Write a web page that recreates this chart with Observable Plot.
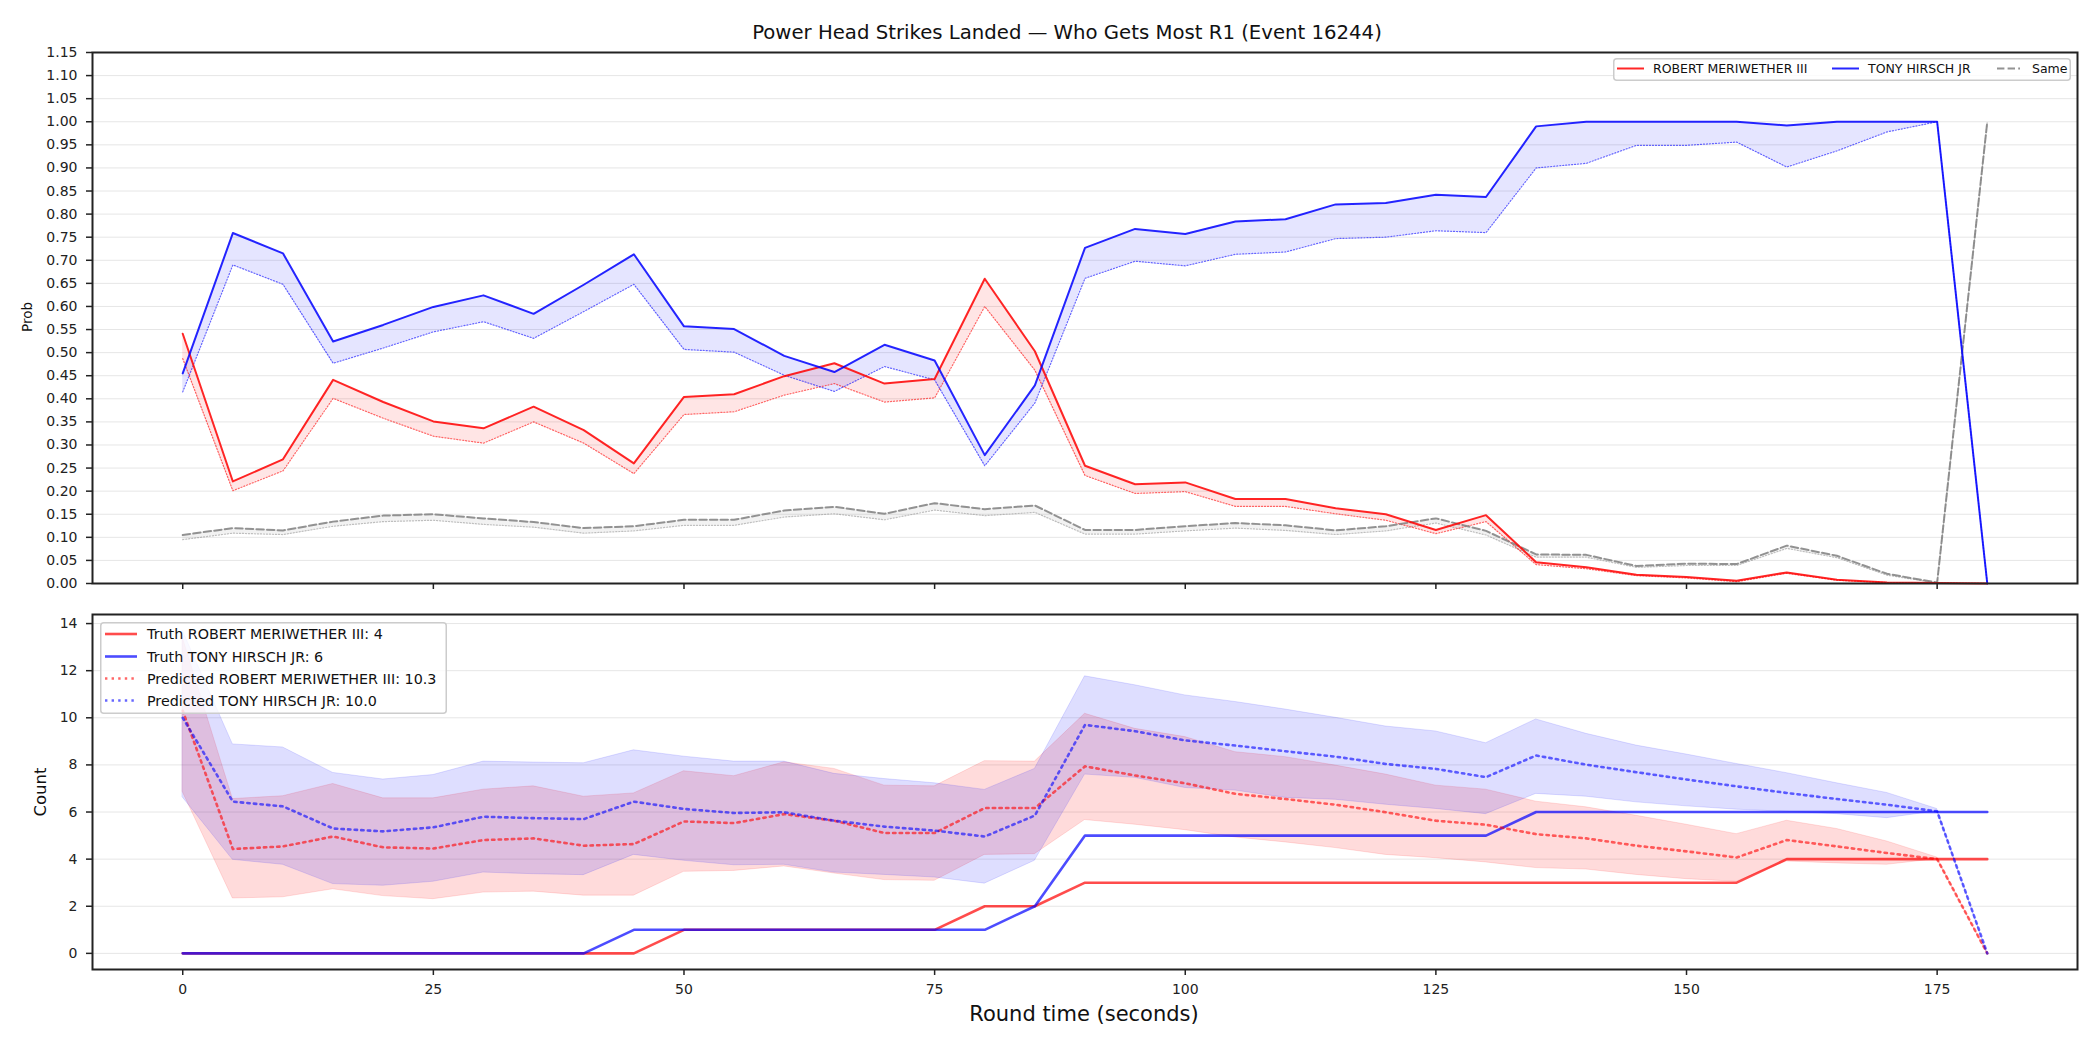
<!DOCTYPE html>
<html>
<head>
<meta charset="utf-8">
<script src="https://cdn.jsdelivr.net/npm/d3@7"></script>
<script src="https://cdn.jsdelivr.net/npm/@observablehq/plot@0.6"></script>
<style>
  html, body { margin: 0; padding: 0; background: #fff; }
  #fig { position: relative; width: 2100px; height: 1050px; overflow: hidden; font-family: "DejaVu Sans", sans-serif; color: #111; }
  #fig > svg, #fig > div { position: absolute; }
  .txt { line-height: 1; white-space: nowrap; }
</style>
</head>
<body>
<div id="fig"></div>
<script>
// Round time in seconds (one sample every 5 s)
const times = [0,5,10,15,20,25,30,35,40,45,50,55,60,65,70,75,80,85,90,95,100,105,110,115,120,125,130,135,140,145,150,155,160,165,170,175,180];

// Probability that each side lands the most power head strikes (solid) and its lower bound (dotted)
const probRobert    = [0.541,0.221,0.269,0.441,0.393,0.351,0.336,0.383,0.332,0.260,0.404,0.410,0.449,0.477,0.433,0.443,0.660,0.503,0.255,0.215,0.219,0.183,0.183,0.163,0.150,0.116,0.148,0.046,0.035,0.019,0.014,0.006,0.024,0.008,0.002,0.001,0.000];
const probRobertLow = [0.487,0.201,0.244,0.401,0.358,0.319,0.304,0.350,0.304,0.238,0.366,0.372,0.408,0.433,0.393,0.402,0.600,0.462,0.234,0.195,0.199,0.167,0.167,0.151,0.137,0.108,0.134,0.041,0.032,0.017,0.012,0.004,0.022,0.007,0.002,0.001,0.000];
const probTony      = [0.455,0.759,0.715,0.524,0.560,0.599,0.624,0.584,0.647,0.713,0.557,0.551,0.493,0.458,0.517,0.483,0.278,0.429,0.727,0.768,0.757,0.784,0.789,0.821,0.824,0.842,0.837,0.990,1.000,1.000,1.000,1.000,0.992,1.000,1.000,1.000,0.000];
const probTonyLow   = [0.415,0.690,0.648,0.477,0.510,0.545,0.567,0.531,0.589,0.648,0.507,0.501,0.451,0.416,0.470,0.441,0.255,0.391,0.661,0.698,0.688,0.713,0.718,0.747,0.750,0.764,0.760,0.900,0.910,0.949,0.949,0.956,0.902,0.937,0.978,1.000,0.000];
const probSame      = [0.105,0.120,0.115,0.134,0.147,0.150,0.141,0.133,0.120,0.124,0.138,0.138,0.158,0.166,0.151,0.174,0.161,0.169,0.116,0.116,0.124,0.131,0.126,0.115,0.124,0.141,0.114,0.063,0.062,0.038,0.043,0.042,0.082,0.060,0.021,0.002,1.000];
const probSameLow   = [0.095,0.109,0.106,0.124,0.134,0.137,0.128,0.122,0.109,0.114,0.126,0.126,0.144,0.151,0.138,0.159,0.147,0.154,0.107,0.107,0.114,0.120,0.115,0.106,0.114,0.131,0.105,0.057,0.057,0.035,0.039,0.039,0.076,0.056,0.018,0.001,1.000];

// Cumulative counts: truth (solid) and predicted final count with its band
const truthRobert  = [0,0,0,0,0,0,0,0,0,0,1,1,1,1,1,1,2,2,3,3,3,3,3,3,3,3,3,3,3,3,3,3,4,4,4,4,4];
const truthTony    = [0,0,0,0,0,0,0,0,0,1,1,1,1,1,1,1,1,2,5,5,5,5,5,5,5,5,5,6,6,6,6,6,6,6,6,6,6];
const predRobert   = [10.3,4.43,4.54,4.96,4.50,4.45,4.81,4.88,4.57,4.64,5.60,5.53,5.91,5.63,5.11,5.11,6.17,6.17,7.94,7.55,7.22,6.77,6.55,6.31,5.99,5.63,5.46,5.06,4.88,4.57,4.33,4.07,4.81,4.54,4.26,4.00,0];
const predRobertHi = [13.4,6.55,6.67,7.19,6.58,6.58,6.95,7.09,6.65,6.79,7.73,7.52,8.11,7.83,7.12,7.09,8.16,8.14,10.17,9.53,9.18,8.54,8.33,7.97,7.59,7.12,6.95,6.44,6.20,5.84,5.46,5.06,5.63,5.28,4.75,4.07,0];
const predRobertLo = [6.85,2.33,2.38,2.72,2.43,2.30,2.58,2.62,2.45,2.45,3.46,3.50,3.69,3.39,3.11,3.08,4.18,4.21,5.66,5.46,5.23,4.92,4.71,4.47,4.18,4.04,3.86,3.62,3.56,3.33,3.15,3.04,3.90,3.82,3.76,4.00,0];
const predTony     = [10.0,6.44,6.24,5.30,5.18,5.35,5.80,5.74,5.70,6.44,6.13,5.96,5.99,5.63,5.38,5.21,4.96,5.85,9.70,9.43,9.04,8.82,8.58,8.35,8.04,7.83,7.48,8.40,8.01,7.69,7.38,7.09,6.81,6.55,6.31,6.03,0];
const predTonyHi   = [13.7,8.87,8.74,7.66,7.38,7.57,8.14,8.10,8.07,8.62,8.35,8.14,8.14,7.62,7.40,7.22,6.94,7.83,11.76,11.38,10.95,10.67,10.35,10.00,9.63,9.42,8.92,9.93,9.32,8.82,8.44,8.04,7.65,7.22,6.81,6.13,0];
const predTonyLo   = [6.62,3.97,3.76,2.94,2.87,3.04,3.43,3.36,3.32,4.18,3.93,3.74,3.76,3.43,3.33,3.22,2.96,3.93,7.59,7.45,7.02,6.91,6.60,6.52,6.31,6.13,5.91,6.77,6.65,6.41,6.24,6.10,6.01,5.91,5.74,6.03,0];

// Tick values
const xTicks = [0,25,50,75,100,125,150,175];
const yTicksProb = [0,0.05,0.10,0.15,0.20,0.25,0.30,0.35,0.40,0.45,0.50,0.55,0.60,0.65,0.70,0.75,0.80,0.85,0.90,0.95,1.00,1.05,1.10,1.15];
const yTicksCount = [0,2,4,6,8,10,12,14];

// Text
const titleText = "Power Head Strikes Landed \u2014 Who Gets Most R1 (Event 16244)";
const nameA = "ROBERT MERIWETHER III";
const nameB = "TONY HIRSCH JR";

const RED = "#ff0000", BLUE = "#0000ff", GRAY = "#808080";
const FONT = "DejaVu Sans, sans-serif";
const DASHED = "7.4,3.2";
const DOTTED_THIN = "1.2,1.8";
const DOTTED_THICK = "2.4,4.2";

const probRows = times.map((t, i) => ({
  t, r: probRobert[i], rl: probRobertLow[i], b: probTony[i], bl: probTonyLow[i], s: probSame[i], sl: probSameLow[i]
}));
const countRows = times.map((t, i) => ({
  t, tr: truthRobert[i], tb: truthTony[i],
  pr: predRobert[i], prh: predRobertHi[i], prl: predRobertLo[i],
  pb: predTony[i], pbh: predTonyHi[i], pbl: predTonyLo[i]
}));

const fig = document.getElementById("fig");
const xDomain = [-9, 189];
const common = {
  width: 2100,
  marginLeft: 92,
  marginRight: 23,
  style: { fontFamily: FONT, fontSize: "14px", color: "#222", background: "transparent", overflow: "visible" }
};

// Upper panel: probabilities
const probPlot = Plot.plot({
  ...common,
  height: 600,
  marginTop: 52,
  marginBottom: 17,
  x: { domain: xDomain, label: null },
  y: { domain: [0, 1.15], label: null },
  marks: [
    Plot.gridY(yTicksProb, { stroke: "#000", strokeOpacity: 0.1, strokeWidth: 1 }),
    Plot.areaY(probRows, { x: "t", y1: "sl", y2: "s", fill: GRAY, fillOpacity: 0.1 }),
    Plot.areaY(probRows, { x: "t", y1: "rl", y2: "r", fill: RED, fillOpacity: 0.1 }),
    Plot.areaY(probRows, { x: "t", y1: "bl", y2: "b", fill: BLUE, fillOpacity: 0.1 }),
    Plot.lineY(probRows, { x: "t", y: "sl", stroke: GRAY, strokeOpacity: 0.5, strokeWidth: 1.2, strokeDasharray: DOTTED_THIN }),
    Plot.lineY(probRows, { x: "t", y: "rl", stroke: RED, strokeOpacity: 0.6, strokeWidth: 1.2, strokeDasharray: DOTTED_THIN }),
    Plot.lineY(probRows, { x: "t", y: "bl", stroke: BLUE, strokeOpacity: 0.6, strokeWidth: 1.2, strokeDasharray: DOTTED_THIN }),
    Plot.lineY(probRows, { x: "t", y: "s", stroke: GRAY, strokeOpacity: 0.85, strokeWidth: 2, strokeDasharray: DASHED }),
    Plot.lineY(probRows, { x: "t", y: "r", stroke: RED, strokeOpacity: 0.85, strokeWidth: 2 }),
    Plot.lineY(probRows, { x: "t", y: "b", stroke: BLUE, strokeOpacity: 0.85, strokeWidth: 2 }),
    Plot.axisY(yTicksProb, { tickFormat: d => d.toFixed(2), tickSize: 6, tickPadding: 9, strokeWidth: 1.5, label: null }),
    Plot.axisX(xTicks, { tickFormat: () => "", tickSize: 6, strokeWidth: 1.5, label: null }),
    Plot.frame({ stroke: "#222", strokeWidth: 2 })
  ]
});
probPlot.style.left = "0px";
probPlot.style.top = "0px";
fig.appendChild(probPlot);

// Lower panel: counts
const countPlot = Plot.plot({
  ...common,
  height: 450,
  marginTop: 14,
  marginBottom: 81,
  x: { domain: xDomain, label: null },
  y: { domain: [-0.685, 14.385], label: null },
  marks: [
    Plot.gridY(yTicksCount, { stroke: "#000", strokeOpacity: 0.1, strokeWidth: 1 }),
    Plot.areaY(countRows, { x: "t", y1: "prl", y2: "prh", fill: RED, fillOpacity: 0.14, stroke: RED, strokeOpacity: 0.12, strokeWidth: 1 }),
    Plot.areaY(countRows, { x: "t", y1: "pbl", y2: "pbh", fill: BLUE, fillOpacity: 0.13, stroke: BLUE, strokeOpacity: 0.12, strokeWidth: 1 }),
    Plot.lineY(countRows, { x: "t", y: "tr", stroke: RED, strokeOpacity: 0.7, strokeWidth: 2.6 }),
    Plot.lineY(countRows, { x: "t", y: "tb", stroke: BLUE, strokeOpacity: 0.7, strokeWidth: 2.6 }),
    Plot.lineY(countRows, { x: "t", y: "pr", stroke: RED, strokeOpacity: 0.6, strokeWidth: 2.6, strokeDasharray: DOTTED_THICK }),
    Plot.lineY(countRows, { x: "t", y: "pb", stroke: BLUE, strokeOpacity: 0.6, strokeWidth: 2.6, strokeDasharray: DOTTED_THICK }),
    Plot.axisY(yTicksCount, { tickSize: 6, tickPadding: 9, strokeWidth: 1.5, label: null }),
    Plot.axisX(xTicks, { tickSize: 6, tickPadding: 9, strokeWidth: 1.5, label: null }),
    Plot.frame({ stroke: "#222", strokeWidth: 2 })
  ]
});
countPlot.style.left = "0px";
countPlot.style.top = "600px";
fig.appendChild(countPlot);

// Text helpers
function addText(text, cx, baseline, size) {
  const d = document.createElement("div");
  d.className = "txt";
  d.textContent = text;
  d.style.fontSize = size + "px";
  d.style.width = "2000px";
  d.style.left = (cx - 1000) + "px";
  d.style.top = (baseline - 0.846 * size) + "px";
  d.style.textAlign = "center";
  fig.appendChild(d);
  return d;
}
function addVText(text, cx, cy, size) {
  const d = document.createElement("div");
  d.className = "txt";
  d.textContent = text;
  d.style.fontSize = size + "px";
  d.style.left = cx + "px";
  d.style.top = cy + "px";
  d.style.transform = "translate(-50%, -50%) rotate(-90deg)";
  fig.appendChild(d);
}

addText(titleText, 1067, 39.3, 19.7);
addText("Round time (seconds)", 1084, 1022, 21);
addVText("Prob", 28, 317, 13.5);
addVText("Count", 41, 792, 16.5);

// Legends
function addLegend(box, entries, size) {
  const ns = "http://www.w3.org/2000/svg";
  const svg = document.createElementNS(ns, "svg");
  svg.setAttribute("width", box.w);
  svg.setAttribute("height", box.h);
  svg.style.position = "absolute";
  svg.style.left = box.x + "px";
  svg.style.top = box.y + "px";
  svg.style.overflow = "visible";
  const rect = document.createElementNS(ns, "rect");
  rect.setAttribute("x", 0.75); rect.setAttribute("y", 0.75);
  rect.setAttribute("width", box.w - 1.5); rect.setAttribute("height", box.h - 1.5);
  rect.setAttribute("rx", 3);
  rect.setAttribute("fill", "rgba(255,255,255,0.8)");
  rect.setAttribute("stroke", "#cccccc");
  rect.setAttribute("stroke-width", 1.5);
  svg.appendChild(rect);
  for (const e of entries) {
    const ln = document.createElementNS(ns, "line");
    ln.setAttribute("x1", e.x1 - box.x); ln.setAttribute("x2", e.x2 - box.x);
    ln.setAttribute("y1", e.y - box.y); ln.setAttribute("y2", e.y - box.y);
    ln.setAttribute("stroke", e.color);
    ln.setAttribute("stroke-opacity", e.opacity);
    ln.setAttribute("stroke-width", e.width);
    if (e.dash) ln.setAttribute("stroke-dasharray", e.dash);
    svg.appendChild(ln);
    const tx = document.createElementNS(ns, "text");
    tx.setAttribute("x", e.tx - box.x);
    tx.setAttribute("y", e.y - box.y);
    tx.setAttribute("dy", "0.36em");
    tx.setAttribute("font-family", FONT);
    tx.setAttribute("font-size", size);
    tx.setAttribute("fill", "#111");
    tx.textContent = e.label;
    svg.appendChild(tx);
  }
  fig.appendChild(svg);
}

addLegend({ x: 1613, y: 58, w: 458, h: 23 }, [
  { label: nameA, color: RED, opacity: 0.85, width: 2, x1: 1617, x2: 1644, tx: 1653, y: 68.5 },
  { label: nameB, color: BLUE, opacity: 0.85, width: 2, x1: 1832, x2: 1859, tx: 1868, y: 68.5 },
  { label: "Same", color: GRAY, opacity: 0.85, width: 2, dash: DASHED, x1: 1997, x2: 2020, tx: 2032, y: 68.5 }
], 12.5);

addLegend({ x: 100, y: 622, w: 347, h: 92 }, [
  { label: "Truth " + nameA + ": " + truthRobert[truthRobert.length - 1], color: RED, opacity: 0.7, width: 2.6, x1: 105, x2: 137, tx: 147, y: 634 },
  { label: "Truth " + nameB + ": " + truthTony[truthTony.length - 1], color: BLUE, opacity: 0.7, width: 2.6, x1: 105, x2: 137, tx: 147, y: 656.5 },
  { label: "Predicted " + nameA + ": " + predRobert[0].toFixed(1), color: RED, opacity: 0.6, width: 2.6, dash: DOTTED_THICK, x1: 105, x2: 137, tx: 147, y: 678.5 },
  { label: "Predicted " + nameB + ": " + predTony[0].toFixed(1), color: BLUE, opacity: 0.6, width: 2.6, dash: DOTTED_THICK, x1: 105, x2: 137, tx: 147, y: 700.5 }
], 14.3);
</script>
</body>
</html>
